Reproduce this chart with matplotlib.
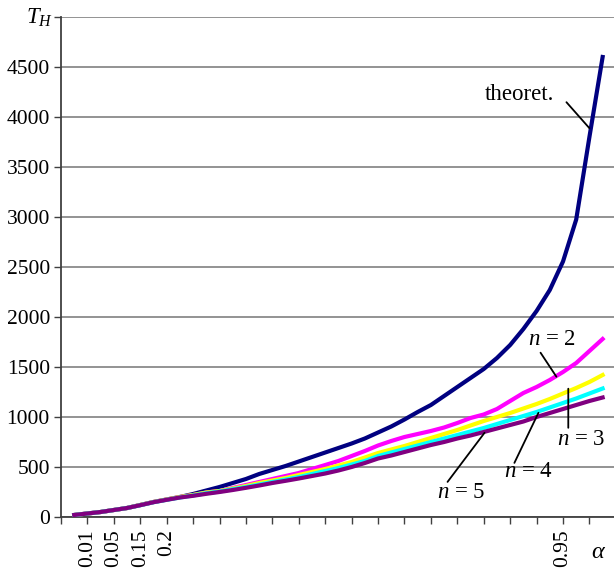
import numpy as np
import matplotlib
matplotlib.use("Agg")
import matplotlib.pyplot as plt

plt.rcParams['font.family'] = ['Liberation Serif', 'DejaVu Serif']
plt.rcParams['mathtext.fontset'] = 'custom'
plt.rcParams['mathtext.rm'] = 'Liberation Serif'
plt.rcParams['mathtext.it'] = 'Liberation Serif:italic'

# category positions (axis has 21 tick intervals, points every half interval)
pos = np.arange(41) * 0.5 + 0.5

theoret = [20, 35, 50, 70, 90, 120, 150, 175, 200, 230, 265, 300, 340, 380, 430, 470,
           510, 555, 600, 645, 690, 735, 785, 845, 905, 975, 1050, 1120, 1210, 1300,
           1390, 1480, 1590, 1720, 1880, 2060, 2270, 2555, 2975, 3800, 4600]
n2 = [20, 35, 50, 70, 90, 120, 150, 175, 200, 220, 245, 260, 290, 320, 350, 380,
      410, 440, 480, 520, 560, 610, 660, 715, 760, 800, 830, 860, 895, 940,
      990, 1025, 1080, 1160, 1240, 1300, 1370, 1450, 1540, 1660, 1780]
n3 = [20, 35, 50, 70, 90, 120, 150, 175, 200, 220, 245, 260, 285, 310, 340, 365,
      390, 420, 450, 480, 515, 550, 595, 640, 675, 710, 750, 790, 830, 870,
      915, 960, 1000, 1040, 1085, 1130, 1180, 1235, 1290, 1350, 1420]
n4 = [20, 35, 50, 70, 90, 118, 148, 172, 195, 215, 238, 255, 278, 300, 325, 350,
      375, 400, 430, 460, 490, 525, 560, 610, 645, 680, 715, 750, 785, 820,
      855, 890, 930, 970, 1010, 1050, 1095, 1140, 1185, 1235, 1285]
n5 = [20, 35, 50, 70, 90, 118, 148, 172, 195, 212, 232, 250, 270, 292, 315, 340,
      362, 385, 410, 435, 465, 500, 540, 585, 615, 650, 685, 720, 750, 785,
      815, 850, 885, 920, 955, 1000, 1040, 1080, 1120, 1160, 1195]

series = [theoret, n2, n3, n4, n5]
colors = ['#000080', '#FF00FF', '#FFFF00', '#00FFFF', '#800080']

tick_pos = [1, 2, 3, 4, 19]
tick_lab = ['0.01', '0.05', '0.15', '0.2', '0.95']

fig = plt.figure(figsize=(6.14, 5.71), dpi=100)
ax = fig.add_axes([61 / 614, 1 - 517 / 571, 1 - 61 / 614 + 0.003, 500 / 571])

for ys, c in zip(series, colors):
    ax.plot(pos, ys, color=c, lw=3.0, solid_joinstyle='round', zorder=3)

ax.set_xlim(0, 21)
ax.set_ylim(0, 5000)
ax.set_yticks(np.arange(0, 5001, 500))
ax.set_yticklabels([str(v) for v in range(0, 4501, 500)] + [''])
ax.yaxis.grid(True, color='#808080', lw=1.2)
ax.set_axisbelow(True)

ax.set_xticks(np.arange(0, 22), minor=True)
ax.set_xticks(tick_pos)
ax.set_xticklabels(tick_lab, rotation=90)
ax.tick_params(axis='x', which='both', direction='out', length=5, width=1, color='#404040')
ax.tick_params(axis='x', which='major', labelsize=15.5, pad=4)
ax.tick_params(axis='y', direction='out', length=5, width=1, color='#404040', labelsize=15.5, pad=3)

for s in ['top', 'right']:
    ax.spines[s].set_visible(False)
for s in ['left', 'bottom']:
    ax.spines[s].set_color('#404040')
    ax.spines[s].set_linewidth(1.3)

fs = 16.5
fig.text(40 / 614, 1 - 18 / 571, '$T_H$', fontsize=fs, ha='center', va='center')
fig.text(598 / 614, 1 - 553 / 571, 'α', fontsize=fs + 1, style='italic', ha='center', va='center')

labels = [('theoret.', (17.35, 4228), (19.13, 4148), (20.0, 3888)),
          ('$n$ = 2', (18.6, 1774), (18.15, 1643), (18.75, 1403)),
          ('$n$ = 3', (19.7, 772), (19.2, 1283), (19.2, 892)),
          ('$n$ = 4', (17.7, 451), (17.16, 541), (18.07, 1042)),
          ('$n$ = 5', (15.16, 240), (14.63, 351), (16.03, 842))]
for txt, tp, p0, p1 in labels:
    ax.text(tp[0], tp[1], txt, fontsize=fs, ha='center', va='center', zorder=5)
    ax.annotate('', xy=p1, xytext=p0,
                arrowprops=dict(arrowstyle='-', lw=1.3, color='black', shrinkA=0, shrinkB=0),
                zorder=5)

fig.savefig('out.png', dpi=100)
